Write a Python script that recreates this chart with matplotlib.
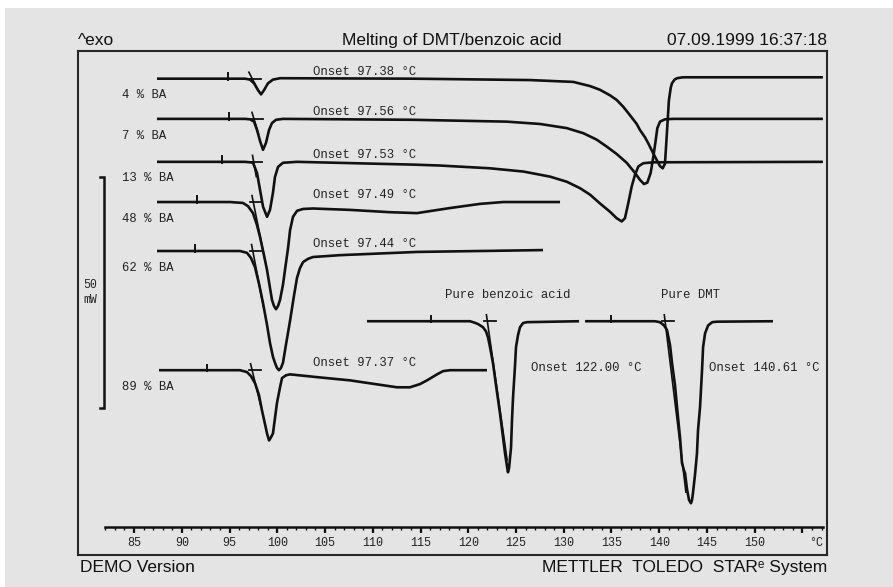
import matplotlib.pyplot as plt
from matplotlib.patches import Rectangle
from matplotlib.ticker import MultipleLocator, FixedLocator

W, H, DPI = 893, 587, 100

# printout scales: 85 degC sits at x=134 px, 9.55 px per degC; the 50 mW bar is 231 px
PX85, PX_PER_C = 134.0, 9.55
PX_PER_MW = 231.0 / 50.0
FRAME = (78, 51, 827, 555)          # left, top, right, bottom (px)
AXIS_Y, AXIS_X0, AXIS_X1 = 527, 105, 823

BG = '#e4e4e4'
INK = '#111111'
MONO = ['Liberation Mono', 'DejaVu Sans Mono']
SANS = ['Liberation Sans', 'DejaVu Sans']


def t_at(px):
    return 85 + (px - PX85) / PX_PER_C


def mw_at(py):
    return (FRAME[3] - py) / PX_PER_MW


# samples, onset temperatures (degC), baseline offsets (mW) and left integration limits (degC)
names = ["4 % BA", "7 % BA", "13 % BA", "48 % BA", "62 % BA", "89 % BA",
         "Pure benzoic acid", "Pure DMT"]
onset = [97.38, 97.56, 97.53, 97.49, 97.44, 97.37, 122.00, 140.61]
offset = [103.1, 94.4, 85.1, 76.4, 65.8, 40.0, 50.6, 50.6]
limit = [94.84, 94.95, 94.2, 91.6, 91.4, 92.6, 116.1, 135.0]

# heat flow relative to each baseline, mW (endothermic down)
t_ba4 = [87.41, 94.84, 96.62, 97.15, 97.57, 97.99, 98.30, 98.61, 99.03, 99.55, 100.29,
         114.21, 126.46, 131.0, 132.75, 133.79, 134.84, 135.54, 136.24, 136.93, 137.64,
         137.98, 138.51, 138.85, 139.38, 139.73, 140.07, 140.36, 140.60, 140.80, 141.01,
         141.20, 141.33, 141.60, 141.85, 142.48, 157.14]
hf_ba4 = [0, 0, 0, -0.2, -1.0, -2.5, -3.4, -2.5, -1.0, -0.2, 0.1,
          0, -0.3, -0.7, -1.6, -2.4, -3.6, -4.6, -6.1, -7.9, -9.8,
          -11.1, -12.7, -14.0, -16.2, -17.6, -18.9, -19.4, -18.4, -11.8, -4.7,
          -2.0, -1.0, -0.2, 0.1, 0.3, 0.3]

t_ba7 = [87.41, 96.62, 97.15, 97.57, 97.88, 98.20, 98.51, 98.82, 99.14, 99.45, 99.87,
         100.60, 114.21, 124.02, 127.51, 130.31, 132.05, 133.45, 134.50, 135.54, 136.59,
         137.46, 137.98, 138.40, 138.75, 139.10, 139.38, 139.63, 139.80, 140.08, 140.60,
         141.47, 157.14]
hf_ba7 = [0, 0, -0.1, -0.6, -2.4, -4.8, -6.7, -5.2, -2.4, -0.9, -0.2,
          0, -0.2, -0.6, -1.1, -2.0, -3.1, -4.5, -6.0, -7.6, -9.5,
          -11.7, -13.2, -14.1, -13.8, -11.7, -8.2, -4.6, -2.0, -0.6, -0.1,
          0, 0]

t_ba13 = [87.41, 96.62, 97.15, 97.46, 97.88, 98.20, 98.51, 98.93, 99.24, 99.55, 99.76,
          100.08, 100.60, 102.07, 114.21, 117.04, 122.28, 125.77, 128.56, 130.31, 131.70,
          132.75, 133.79, 134.84, 135.54, 136.07, 136.41, 136.76, 137.12, 137.46, 137.81,
          138.33, 139.38, 157.14]
hf_ba13 = [0, 0, -0.1, -0.2, -2.4, -6.1, -9.7, -11.9, -10.4, -6.7, -3.3,
           -1.1, -0.2, 0, -0.6, -0.8, -1.4, -2.1, -3.2, -4.3, -5.7,
           -7.1, -9.0, -10.8, -12.2, -12.9, -12.2, -8.9, -5.3, -2.8, -1.0,
           -0.3, -0.1, 0]

t_ba48 = [87.41, 95.05, 96.41, 96.94, 97.46, 97.88, 98.20, 98.61, 98.93, 99.24, 99.45,
          99.66, 99.87, 100.08, 100.29, 100.60, 100.81, 101.13, 101.34, 101.65, 102.07,
          102.70, 103.74, 107.62, 111.81, 114.63, 118.09, 121.23, 123.64, 129.61]
hf_ba48 = [0, 0, -0.2, -0.9, -2.4, -5.0, -7.6, -11.5, -14.7, -18.6, -21.2,
           -22.5, -23.2, -22.5, -21.2, -17.9, -14.7, -10.0, -6.1, -3.2, -1.9,
           -1.5, -1.4, -1.7, -2.2, -2.4, -1.3, -0.4, 0, 0]

t_ba62 = [87.41, 96.10, 96.83, 97.25, 97.67, 98.09, 98.51, 98.93, 99.24, 99.55, 99.76,
          99.97, 100.18, 100.39, 100.60, 100.91, 101.34, 101.75, 102.07, 102.38, 102.70,
          103.22, 103.74, 106.57, 114.63, 127.83]
hf_ba62 = [0, 0, -0.4, -1.5, -3.5, -7.1, -11.3, -16.0, -19.9, -22.9, -24.2,
           -25.3, -25.8, -25.3, -24.2, -20.3, -15.1, -9.7, -5.8, -3.7, -2.4,
           -1.7, -1.3, -0.9, -0.2, 0.2]

t_ba89 = [87.62, 96.10, 96.83, 97.25, 97.67, 98.09, 98.40, 98.72, 98.93, 99.14, 99.35,
          99.55, 99.76, 99.97, 100.29, 100.50, 100.92, 101.34, 104.16, 107.62, 110.24,
          112.54, 113.90, 114.95, 115.68, 116.73, 117.36, 118.09, 121.96]
hf_ba89 = [0, 0, -0.4, -1.3, -2.8, -5.4, -8.7, -11.7, -13.7, -15.2, -14.5,
           -13.7, -10.4, -7.1, -3.7, -1.7, -1.1, -0.9, -1.5, -2.2, -3.0,
           -3.7, -3.7, -3.0, -2.2, -0.9, -0.2, 0, 0]

t_ba = [109.40, 120.18, 120.50, 121.02, 121.54, 121.86, 122.07, 122.28, 122.59, 122.91,
        123.32, 123.64, 123.85, 124.06, 124.16, 124.27, 124.48, 124.58, 124.69, 124.90,
        125.00, 125.21, 125.42, 125.73, 126.15, 131.60]
hf_ba = [0, 0, -0.2, -0.6, -1.3, -2.2, -3.5, -5.6, -9.1, -13.9,
         -19.9, -25.1, -28.6, -31.4, -32.7, -31.8, -27.3, -21.4, -16.5, -9.5,
         -5.6, -3.0, -1.3, -0.4, -0.2, 0]

t_dmt = [132.23, 139.55, 140.07, 140.50, 140.81, 141.13, 141.34, 141.65, 141.86, 142.17,
         142.38, 142.59, 142.70, 142.91, 143.12, 143.32, 143.43, 143.53, 143.74, 143.95,
         144.06, 144.27, 144.48, 144.59, 144.80, 145.12, 145.55, 146.05, 151.91]
hf_dmt = [0, 0, -0.2, -0.9, -1.9, -5.2, -9.1, -13.9, -18.6, -25.1,
          -30.7, -32.3, -32.9, -36.4, -38.7, -39.4, -38.7, -37.2, -33.3, -28.6,
          -23.6, -18.6, -10.6, -5.6, -2.6, -0.9, -0.2, -0.1, 0]

traces = [(t_ba4, hf_ba4), (t_ba7, hf_ba7), (t_ba13, hf_ba13), (t_ba48, hf_ba48),
          (t_ba62, hf_ba62), (t_ba89, hf_ba89), (t_ba, hf_ba), (t_dmt, hf_dmt)]

# inflection tangents used for the onset evaluation: degC per mW and how deep they run
tangent_slope = [0.25, 0.146, 0.085, 0.097, 0.093, 0.117, 0.069, 0.059]
tangent_depth = [2.6, 3.2, 3.2, 12.0, 12.0, 8.0, 30.0, 37.0]

fig = plt.figure(figsize=(W / DPI, H / DPI), dpi=DPI, facecolor=BG)
fig.patches.append(Rectangle((0, 1 - 8 / H), 1, 8 / H, transform=fig.transFigure,
                             facecolor='white', edgecolor='none', zorder=0))
fig.patches.append(Rectangle((0, 0), 5 / W, 1, transform=fig.transFigure,
                             facecolor='white', edgecolor='none', zorder=0))

l, t, r, b = FRAME
ax = fig.add_axes([l / W, 1 - b / H, (r - l) / W, (b - t) / H])
ax.set_facecolor(BG)
ax.set_xlim(t_at(l), t_at(r))
ax.set_ylim(mw_at(b), mw_at(t))
ax.set_xticks([])
ax.set_yticks([])
for sp in ax.spines.values():
    sp.set_linewidth(1.5)
    sp.set_color('#262626')

for i, (tt, hf) in enumerate(traces):
    base = offset[i]
    ax.plot(tt, [base + v for v in hf], color=INK, lw=1.9,
            solid_joinstyle='round', solid_capstyle='butt')
    # baseline extrapolation and inflection tangent
    ax.plot([onset[i] - 0.3, onset[i] + 0.9], [base, base], color=INK, lw=1.3)
    k = tangent_slope[i]
    ax.plot([onset[i] - k * 1.4, onset[i] + k * tangent_depth[i]],
            [base + 1.4, base - tangent_depth[i]], color=INK, lw=1.2)
    # left integration limit marker
    ax.plot([limit[i], limit[i]], [base - 0.2, base + 1.2], color=INK, lw=1.4)

    if i < 6:
        ax.text(t_at(122), base - 3.6, names[i], ha='left', va='center',
                family=MONO, fontsize=8.8, color='#222222')
        ax.text(t_at(313), base + 1.5, f"Onset {onset[i]:.2f} °C", ha='left',
                va='center', family=MONO, fontsize=8.8, color='#222222')
    else:
        t_min = tt[hf.index(min(hf))]
        ax.text(t_min, base + 5.7, names[i], ha='center', va='center',
                family=MONO, fontsize=8.8, color='#222222')
        ax.text(onset[i] + 4.6, base - 10.1, f"Onset {onset[i]:.2f} °C", ha='left',
                va='center', family=MONO, fontsize=8.8, color='#222222')

# 50 mW scale bar
bar_lo, bar_hi = mw_at(408), mw_at(408) + 50
ax.plot([t_at(100), t_at(104), t_at(104), t_at(100)], [bar_hi, bar_hi, bar_lo, bar_lo],
        color=INK, lw=1.8, solid_joinstyle='miter')
ax.text(t_at(90), (bar_lo + bar_hi) / 2, "50\nmW", ha='center', va='center',
        family=MONO, fontsize=8.3, linespacing=1.4, color='#222222')

# temperature axis
axt = fig.add_axes([AXIS_X0 / W, 1 - AXIS_Y / H, (AXIS_X1 - AXIS_X0) / W, 0.0005])
axt.set_facecolor('none')
axt.set_xlim(t_at(AXIS_X0), t_at(AXIS_X1))
axt.set_yticks([])
for side in ['top', 'left', 'right']:
    axt.spines[side].set_visible(False)
axt.spines['bottom'].set_linewidth(1.8)
axt.spines['bottom'].set_color(INK)
major = list(range(85, 156, 5))
axt.xaxis.set_major_locator(FixedLocator(major))
axt.set_xticklabels([str(v) for v in major[:-1]] + [''])
axt.xaxis.set_minor_locator(MultipleLocator(1))
axt.tick_params(axis='x', which='major', direction='out', length=4, width=1.6,
                pad=3, labelsize=8.5, labelcolor='#222222', color=INK)
axt.tick_params(axis='x', which='minor', direction='out', length=1.8, width=1.0,
                color=INK)
for lab in axt.get_xticklabels():
    lab.set_family(MONO)
axt.annotate("°C", xy=(t_at(AXIS_X1), 0), xycoords=('data', 'axes fraction'),
             xytext=(0, -7), textcoords='offset points', ha='right', va='top',
             family=MONO, fontsize=8.5, color='#222222')

# header and footer
fig.text(l / W, 1 - 45 / H, "^exo", ha='left', va='baseline', family=SANS,
         fontsize=12.5, color=INK)
fig.text(452 / W, 1 - 45 / H, "Melting of DMT/benzoic acid", ha='center',
         va='baseline', family=SANS, fontsize=12.5, color=INK)
fig.text(r / W, 1 - 45 / H, "07.09.1999 16:37:18", ha='right', va='baseline',
         family=SANS, fontsize=12.5, color=INK)
fig.text(80 / W, 1 - 572 / H, "DEMO Version", ha='left', va='baseline',
         family=SANS, fontsize=12.5, color=INK)
fig.text(r / W, 1 - 572 / H, "METTLER  TOLEDO  STARᵉ System", ha='right',
         va='baseline', family=SANS, fontsize=12.5, color=INK)

fig.savefig('out.png', dpi=DPI, facecolor=BG)
